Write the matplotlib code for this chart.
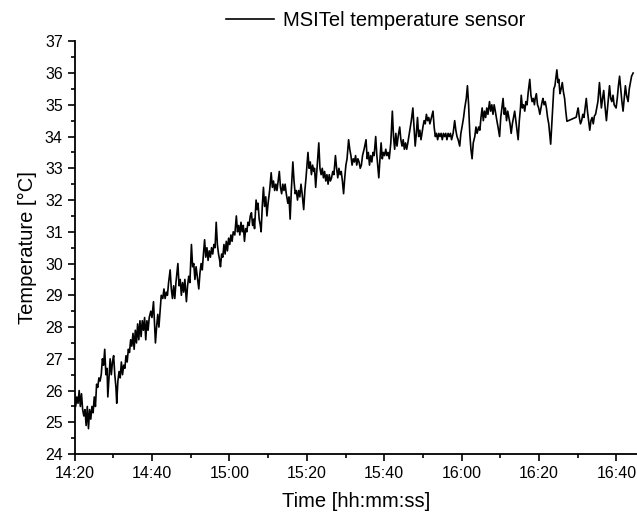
import pandas as pd
import matplotlib
matplotlib.use('Agg')
import matplotlib.pyplot as plt
import matplotlib.dates as mdates

# Sensor log (minutes after 14:20, temperature in C)
start_time = '2000-01-01 14:20'
minutes = [
    0.0, 0.3, 0.6, 0.9, 1.2, 1.5, 1.8, 2.1, 2.4, 2.7, 3.0, 3.3, 3.6, 3.9, 4.2, 4.5, 4.8, 5.1, 5.4, 5.7,
    6.0, 6.3, 6.6, 6.9, 7.2, 7.5, 7.8, 8.1, 8.4, 8.6, 8.9, 9.2, 9.5, 9.8, 10.1, 10.4, 10.7, 10.9, 11.2, 11.5,
    11.8, 12.1, 12.4, 12.7, 13.0, 13.3, 13.6, 13.9, 14.2, 14.5, 14.8, 15.1, 15.4, 15.7, 16.0, 16.3, 16.6, 16.9, 17.2, 17.5,
    17.8, 18.1, 18.4, 18.7, 19.0, 19.3, 19.7, 20.0, 20.4, 20.9, 21.2, 21.5, 21.8, 22.1,
    22.4, 22.8, 23.1, 23.4, 23.7, 24.0, 24.3, 24.7, 25.0, 25.3, 25.6, 25.9, 26.2, 26.7, 27.0, 27.3, 27.6, 27.9, 28.2, 28.5,
    28.9, 29.2, 29.5, 29.8, 30.2, 30.5, 30.8, 31.1, 31.4, 31.7, 32.1, 32.4, 32.7, 33.0, 33.3, 33.6, 33.9, 34.2, 34.5, 34.8,
    35.1, 35.4, 35.7, 36.0, 36.3, 36.6, 36.9, 37.2, 37.5, 37.7, 38.0, 38.3, 38.6, 38.9, 39.2, 39.5, 39.8, 40.1, 40.4, 40.7,
    41.0, 41.4, 41.8, 42.1, 42.4, 42.7, 43.0, 43.3, 43.6, 43.9, 44.2, 44.5, 44.8, 45.1, 45.4, 45.7, 46.0, 46.3, 46.5, 46.9,
    47.2, 47.4, 47.7, 48.0, 48.2, 48.5, 48.8, 49.1, 49.4, 49.7, 50.0,
    50.4, 50.8, 51.1, 51.4, 51.7, 52.0, 52.3, 52.6, 52.9, 53.2, 53.5, 53.8, 54.1, 54.4, 54.7, 55.1, 55.4, 55.7, 56.0, 56.4,
    56.7, 57.0, 57.3, 57.6, 57.9, 58.2, 58.5, 58.8, 59.2, 59.5, 59.8, 60.3, 60.6, 60.9, 61.2, 61.5, 61.8, 62.0, 62.3, 62.7,
    63.1, 63.4, 63.7, 64.0, 64.3, 64.6, 64.9, 65.2, 65.5, 65.8, 66.1, 66.4, 66.7, 67.0, 67.4, 67.7, 68.0, 68.3, 68.6, 68.9,
    69.2, 69.5, 69.8, 70.1, 70.4, 70.8, 71.1, 71.4, 71.7, 72.0, 72.3, 72.6, 72.9, 73.2, 73.5, 73.8, 74.1, 74.4, 74.8, 75.3,
    75.6, 75.9, 76.2, 76.5, 76.8, 77.1, 77.4, 77.8, 78.1, 78.4, 78.6, 78.9,
    79.2, 79.5, 79.8, 80.1, 80.4, 80.7, 81.0, 81.3, 81.7, 82.1, 82.4, 82.7, 83.0, 83.3, 83.6, 84.0, 84.3, 84.6, 84.9, 85.2,
    85.5, 85.8, 86.1, 86.6, 87.0, 87.4, 87.7, 88.0, 88.3, 88.6, 88.9, 89.2, 89.5, 90.0, 90.3, 90.6, 90.9, 91.2, 91.5, 91.8,
    92.2, 92.6, 92.9, 93.2, 93.5, 93.8, 94.1, 94.4, 94.7, 95.0, 95.3, 95.6, 95.9, 96.2, 96.5, 96.8, 97.1, 97.4, 97.8, 98.2,
    98.5, 98.8, 99.1, 99.5, 99.8, 100.1, 100.5, 100.8, 101.2, 101.5, 101.8, 102.1, 102.4, 102.7, 103.0, 103.4, 103.7, 104.0, 104.4, 104.7,
    105.0, 105.3, 105.6, 105.9, 106.2, 106.5, 106.8, 107.2, 107.5, 107.8, 108.1, 108.4, 108.7, 109.1, 109.4, 109.8, 110.1, 110.4, 110.7, 111.0,
    111.3, 111.6, 111.9, 112.2, 112.5, 112.8, 113.1, 113.4, 113.7, 114.0, 114.3, 114.6, 114.9, 115.2, 115.4, 115.7, 116.0, 116.3, 116.6, 116.9,
    117.2, 117.6, 117.9, 118.2, 118.5, 118.8, 119.0, 119.3, 119.6, 119.9, 120.2, 120.5, 120.8, 121.0, 121.3, 121.6, 121.9, 122.2, 122.5, 122.8,
    123.0, 123.3, 123.6, 123.8, 124.1, 124.4, 124.6, 124.9, 125.1, 125.4, 125.7, 126.0, 126.3, 126.6, 126.9, 127.2,
    129.6, 129.9, 130.1, 130.4, 130.7, 131.0, 131.3, 131.6, 131.9, 132.2, 132.5, 132.8, 133.1, 133.4, 133.7, 134.0, 134.3, 134.6, 134.9, 135.2,
    135.6, 135.9, 136.1, 136.4, 136.7, 137.0, 137.4, 137.7, 138.0, 138.2, 138.5, 138.8, 139.1, 139.4, 139.9, 140.2, 140.5, 140.8, 141.1, 141.4,
    141.7, 142.0, 142.3, 142.6, 143.0, 143.3, 143.6, 143.9, 144.3,
]
temperature = [
    25.9, 25.5, 25.8, 25.6, 26.0, 25.5, 25.9, 25.4, 25.2, 25.4, 24.9, 25.5, 24.8, 25.4, 25.1, 25.5, 25.3, 25.8, 25.5, 26.2,
    26.1, 26.4, 26.3, 26.5, 27.0, 26.8, 27.3, 26.5, 26.7, 25.8, 26.4, 27.0, 26.5, 26.9, 27.1, 26.5, 26.1, 25.6, 26.3, 26.6,
    26.4, 26.9, 26.5, 26.8, 26.7, 27.1, 26.9, 27.3, 27.2, 27.6, 27.4, 27.8, 27.3, 27.9, 27.5, 28.1, 27.6, 28.2, 27.7, 28.2,
    27.9, 28.3, 27.6, 28.2, 27.9, 28.3, 28.5, 28.3, 28.8, 27.5, 28.0, 28.4, 28.0, 28.5,
    29.0, 28.9, 29.2, 28.9, 29.1, 29.0, 29.4, 29.8, 29.2, 28.9, 29.3, 28.9, 29.4, 30.0, 29.3, 29.5, 29.0, 29.4, 29.1, 29.5,
    28.8, 29.3, 29.6, 29.4, 30.6, 29.9, 30.0, 29.5, 29.9, 29.6, 29.2, 29.7, 30.0, 29.8, 30.3, 30.75, 30.2, 30.5, 30.1, 30.4,
    30.2, 30.5, 30.3, 30.6, 30.5, 31.3, 30.6, 30.3, 30.1, 29.9, 30.3, 30.2, 30.6, 30.3, 30.7, 30.4, 30.8, 30.6, 30.9, 30.7,
    31.0, 30.9, 31.5, 31.0, 31.2, 30.9, 31.3, 31.0, 31.2, 30.7, 31.1, 31.0, 31.3, 31.2, 31.5, 31.6, 31.2, 31.4, 31.1, 32.0,
    31.7, 31.9, 31.4, 31.2, 31.0, 31.8, 32.4, 31.8, 32.1, 31.5, 31.9,
    32.3, 32.86, 32.4, 32.6, 32.3, 32.5, 32.3, 32.6, 32.9, 32.4, 32.2, 32.5, 32.3, 32.5, 32.2, 31.9, 32.1, 31.4, 32.3, 33.2,
    32.6, 32.2, 32.3, 32.0, 32.3, 32.1, 32.5, 32.2, 31.7, 32.3, 32.7, 33.5, 33.0, 33.2, 32.8, 33.1, 32.9, 33.0, 32.4, 33.1,
    33.8, 33.0, 32.8, 33.0, 32.7, 32.9, 32.6, 32.8, 32.5, 32.8, 32.6, 32.7, 32.9, 32.8, 33.4, 33.0, 32.7, 33.0, 32.8, 32.9,
    32.6, 32.2, 32.7, 33.1, 33.3, 33.9, 33.6, 33.4, 33.1, 33.3, 33.2, 33.4, 33.1, 33.3, 33.2, 33.0, 33.1, 33.4, 33.6, 33.9,
    33.3, 33.5, 33.1, 33.4, 33.2, 33.5, 33.4, 34.0, 33.4, 33.0, 32.7, 33.3,
    33.8, 33.3, 33.5, 33.4, 33.6, 33.4, 33.5, 33.3, 33.8, 34.8, 34.0, 33.6, 34.1, 33.7, 34.0, 34.3, 33.9, 33.7, 33.9, 33.6,
    33.8, 33.6, 33.8, 34.2, 34.5, 34.9, 34.3, 33.7, 34.1, 34.6, 34.0, 34.2, 33.9, 34.3, 34.5, 34.4, 34.7, 34.5, 34.6, 34.4,
    34.6, 34.8, 34.3, 34.0, 34.1, 33.9, 34.1, 34.0, 34.1, 33.9, 34.1, 34.0, 34.1, 33.9, 34.1, 34.0, 34.1, 33.9, 34.1, 34.5,
    34.2, 34.0, 33.9, 33.7, 34.1, 34.3, 34.6, 34.9, 35.2, 35.6, 35.0, 34.1, 33.6, 33.3, 33.8, 34.0, 34.3, 34.1, 34.3, 34.2,
    34.6, 34.9, 34.5, 34.8, 34.6, 34.9, 34.7, 35.1, 34.8, 35.0, 34.7, 35.0, 34.8, 34.5, 34.3, 34.0, 34.6, 34.9, 35.2, 34.7,
    34.9, 34.5, 34.8, 34.6, 34.4, 34.1, 34.4, 34.6, 34.8, 34.5, 34.2, 33.9, 34.5, 34.9, 35.3, 34.9, 35.0, 34.8, 35.1, 35.0,
    35.4, 35.8, 35.3, 35.1, 35.2, 35.0, 35.2, 35.35, 35.0, 34.9, 34.7, 34.9, 35.1, 35.2, 35.0, 35.1, 34.9, 34.6, 34.4, 34.0,
    33.76, 34.4, 35.1, 35.5, 35.6, 35.9, 36.1, 35.7, 35.8, 35.35, 35.5, 35.7, 35.4, 35.2, 34.8, 34.48,
    34.61, 34.8, 34.9, 34.6, 34.4, 34.5, 34.7, 34.6, 34.9, 35.2, 34.8, 34.5, 34.2, 34.5, 34.6, 34.4, 34.65, 34.7, 34.9, 35.1,
    35.7, 35.2, 34.9, 35.2, 35.45, 35.0, 34.5, 34.9, 35.3, 35.6, 35.2, 35.1, 35.3, 35.0, 34.9, 35.2, 35.6, 35.9, 35.5, 35.1,
    34.8, 35.2, 35.6, 35.3, 35.1, 35.5, 35.7, 35.9, 36.0,
]
series_label = 'MSITel temperature sensor'

plt.rcParams['font.family'] = ['Liberation Sans', 'DejaVu Sans']

times = pd.Timestamp(start_time) + pd.to_timedelta(minutes, unit='min')

fig = plt.figure(figsize=(6.37, 5.16), dpi=100)
ax = fig.add_axes([0.117, 0.12, 0.883, 0.80])

line, = ax.plot(times, temperature, color='black', lw=1.2)

ax.set_xlim(pd.Timestamp(start_time), pd.Timestamp(start_time) + pd.Timedelta(minutes=145.3))
ax.set_ylim(24, 37)

ax.xaxis.set_major_locator(mdates.MinuteLocator(byminute=[0, 20, 40]))
ax.xaxis.set_minor_locator(mdates.MinuteLocator(byminute=[10, 30, 50]))
ax.xaxis.set_major_formatter(mdates.DateFormatter('%H:%M'))
ax.yaxis.set_major_locator(plt.MultipleLocator(1))
ax.yaxis.set_minor_locator(plt.MultipleLocator(0.5))

for side in ['top', 'right']:
    ax.spines[side].set_visible(False)
for side in ['left', 'bottom']:
    ax.spines[side].set_linewidth(1.3)
ax.tick_params(which='major', direction='out', length=5, width=1.2, labelsize=11.5)
ax.tick_params(which='minor', direction='out', length=3, width=1.2)

ax.set_xlabel('Time [hh:mm:ss]', fontsize=14.5, labelpad=8)
ax.set_ylabel('Temperature [°C]', fontsize=14.5, labelpad=6)

fig.legend([line], [series_label], loc='center', bbox_to_anchor=(0.59, 0.961),
           frameon=False, fontsize=14.5, handlelength=2.4, handletextpad=0.45, borderpad=0)

fig.savefig('out.png', dpi=100)
